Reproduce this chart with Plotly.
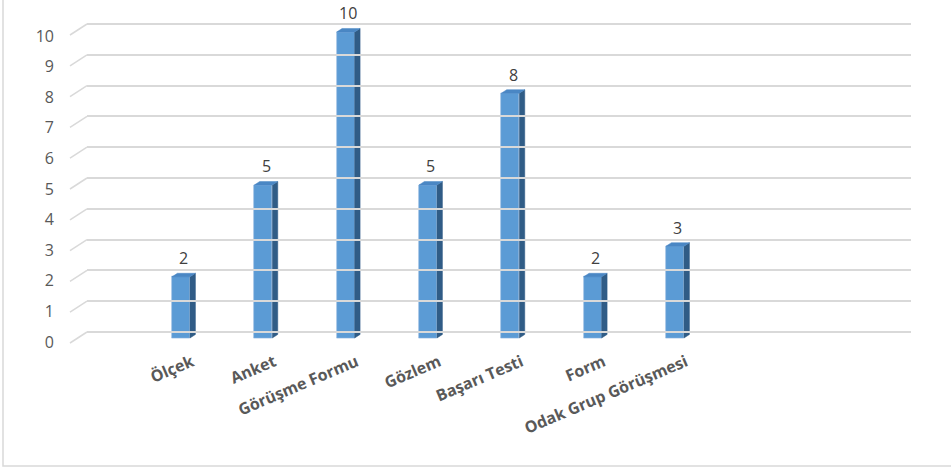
import plotly.graph_objects as go

# Data
categories = ["Ölçek", "Anket", "Görüşme Formu", "Gözlem", "Başarı Testi", "Form", "Odak Grup Görüşmesi"]
values = [2, 5, 10, 5, 8, 2, 3]
y_ticks = list(range(0, 11))

W, H = 951, 469

def px(p):
    return p / W

def py(p):
    return 1 - p / H

# Geometry of the pseudo-3D columns (in axis units)
x_pos = list(range(len(categories)))
bar_w = 0.219          # front face width
dx = 0.066             # depth offset to the right
dy = 0.115             # depth offset upwards

front_color = "#5B9BD5"
side_color = "#305C86"
top_color = "#4A87C4"
grid_color = "#D9D9D9"
text_color = "#595959"

# Front plane: value 0 sits at pixel row 338, 30.6 px per unit
front_zero, front_unit = 338, 30.6
front_range = [-0.5, 11]
# Back wall: value 0 at pixel row 332, 30.8 px per unit
back_zero, back_unit = 332, 30.8
back_range = [-0.5, 10.5]

fig = go.Figure()

# Back wall subplot carrying the gridlines
fig.add_trace(go.Scatter(
    x=[0, 1], y=[0, 0], xaxis="x2", yaxis="y2", mode="lines",
    line=dict(width=0), hoverinfo="skip", showlegend=False,
))

# Front faces
fig.add_trace(go.Bar(
    x=x_pos, y=values, width=bar_w,
    marker=dict(color=front_color, line=dict(color="#8DB5DF", width=0.6)),
    hoverinfo="skip", showlegend=False,
))

# Side faces
sx, sy = [], []
for x, v in zip(x_pos, values):
    r = x + bar_w / 2
    sx += [r, r + dx, r + dx, r, r, None]
    sy += [0, dy, v + dy, v, 0, None]
fig.add_trace(go.Scatter(
    x=sx, y=sy, mode="lines", fill="toself", fillcolor=side_color,
    line=dict(color=side_color, width=0.5), hoverinfo="skip", showlegend=False,
))

# Top faces
tx, ty = [], []
for x, v in zip(x_pos, values):
    l, r = x - bar_w / 2, x + bar_w / 2
    tx += [l, l + dx, r + dx, r, l, None]
    ty += [v, v + dy, v + dy, v, v, None]
fig.add_trace(go.Scatter(
    x=tx, y=ty, mode="lines", fill="toself", fillcolor=top_color,
    line=dict(color=top_color, width=0.5), hoverinfo="skip", showlegend=False,
))

# Value labels above the columns
for x, v in zip(x_pos, values):
    fig.add_annotation(
        x=x + dx / 2, y=v + dy, text=str(v), showarrow=False, yshift=15,
        font=dict(family="Open Sans", size=16, color="#404040"),
    )

# Side-wall diagonals joining the floor edge to each back gridline
for t in y_ticks:
    fig.add_shape(
        type="line", xref="paper", yref="y2", ysizemode="pixel", yanchor=t,
        x0=px(70), x1=px(87), y0=-11, y1=0,
        line=dict(color=grid_color, width=1.5), layer="below",
    )

# Chart border
fig.add_shape(
    type="rect", xref="paper", yref="paper",
    x0=px(3), x1=px(1000), y0=py(466), y1=py(-20),
    line=dict(color=grid_color, width=1.5), layer="below",
)

fig.update_layout(
    template="none",
    width=W, height=H,
    margin=dict(l=0, r=0, t=0, b=0, pad=0, autoexpand=False),
    paper_bgcolor="white", plot_bgcolor="rgba(0,0,0,0)",
    bargap=0,
    xaxis=dict(
        domain=[px(70), px(894)], range=[-1.348, 8.66],
        anchor="free", position=py(front_zero),
        tickvals=x_pos, ticktext=categories, tickangle=-23,
        tickfont=dict(family="Open Sans", size=16, color=text_color, weight="bold"),
        showgrid=False, zeroline=False, showline=False, ticks="",
        ticklabelstandoff=11, ticklabelshift=11, fixedrange=True, automargin=False,
    ),
    yaxis=dict(
        domain=[py(front_zero - front_range[0] * front_unit),
                py(front_zero - front_range[1] * front_unit)],
        range=front_range, anchor="x",
        tickvals=y_ticks, tickfont=dict(family="Open Sans", size=16, color=text_color),
        showgrid=False, zeroline=False, showline=False, ticks="",
        ticklabelstandoff=15, ticklabelshift=4, fixedrange=True, automargin=False,
    ),
    xaxis2=dict(
        domain=[px(87), px(911)], range=[0, 1], anchor="y2",
        visible=False, fixedrange=True, automargin=False,
    ),
    yaxis2=dict(
        domain=[py(back_zero - back_range[0] * back_unit),
                py(back_zero - back_range[1] * back_unit)],
        range=back_range, anchor="x2",
        tickvals=y_ticks, showticklabels=False, ticks="",
        showgrid=True, gridcolor=grid_color, gridwidth=1.5,
        zeroline=False, showline=False, fixedrange=True, automargin=False,
    ),
)

fig.write_html("out.html")
